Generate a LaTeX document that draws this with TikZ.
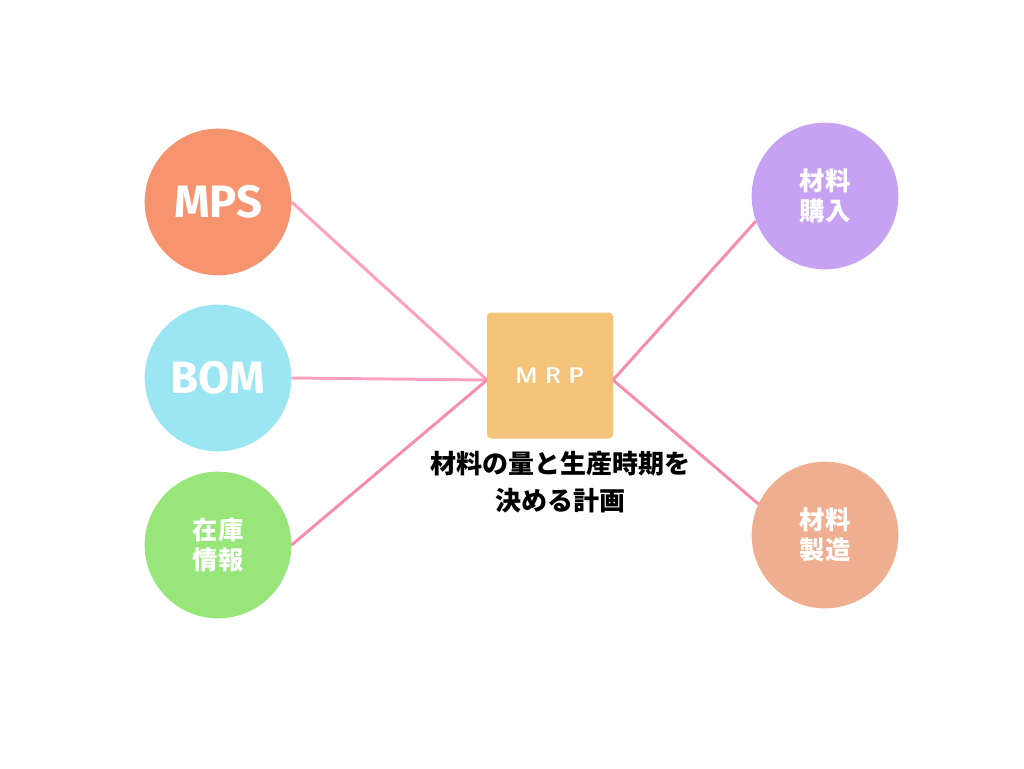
\documentclass[tikz,border=0pt]{standalone}
\usepackage{fontspec}
\setmainfont{Fira Sans}
\newfontfamily\cjk{Noto Sans CJK JP Black}
\definecolor{cmps}{RGB}{247,148,112}
\definecolor{cbom}{RGB}{155,230,242}
\definecolor{czai}{RGB}{152,230,122}
\definecolor{ckou}{RGB}{200,162,242}
\definecolor{csei}{RGB}{239,174,144}
\definecolor{cmrp}{RGB}{244,196,122}
\definecolor{lnA}{RGB}{255,160,190}
\definecolor{lnB}{RGB}{248,140,170}
\begin{document}
\begin{tikzpicture}[x=0.75pt,y=-0.75pt,
  circ/.style={circle,minimum size=110pt,inner sep=0pt,text=white,font=\cjk\fontsize{19}{23}\selectfont,align=center},
  ln/.style={line width=2.2pt,color=#1}]
\useasboundingbox (0,0) rectangle (1024,768);
\fill[white] (0,0) rectangle (1024,768);
\node[circ,fill=cmps] (mps) at (218,202) {\fontspec{Fira Sans}\bfseries\fontsize{34}{34}\selectfont MPS};
\node[circ,fill=cbom] (bom) at (218,378) {\fontspec{Fira Sans}\bfseries\fontsize{34}{34}\selectfont BOM};
\node[circ,fill=czai] (zai) at (218,545) {在庫\\情報};
\node[circ,fill=ckou] (kou) at (825,196) {材料\\購入};
\node[circ,fill=csei] (sei) at (825,535) {材料\\製造};
\node[fill=cmrp,rounded corners=3pt,minimum width=94.5pt,minimum height=94.5pt,text=white,font=\sffamily\bfseries\fontsize{17}{17}\selectfont] (mrp) at (550,375.5) {M\,\,R\,\,P};
\node[font=\cjk\fontsize{19.5}{28}\selectfont,align=center,text=black] (lab) at (560,482) {材料の量と生産時期を\\決める計画};
\coordinate (mi) at (487,380);
\coordinate (mo) at (613,380);
\draw[ln=lnA] (mps.east) -- (mi);
\draw[ln=lnA] (bom.east) -- (mi);
\draw[ln=lnB] (zai.east) -- (mi);
\draw[ln=lnB] (mo) -- (kou.200);
\draw[ln=lnB] (mo) -- (sei.155);
\end{tikzpicture}
\end{document}
